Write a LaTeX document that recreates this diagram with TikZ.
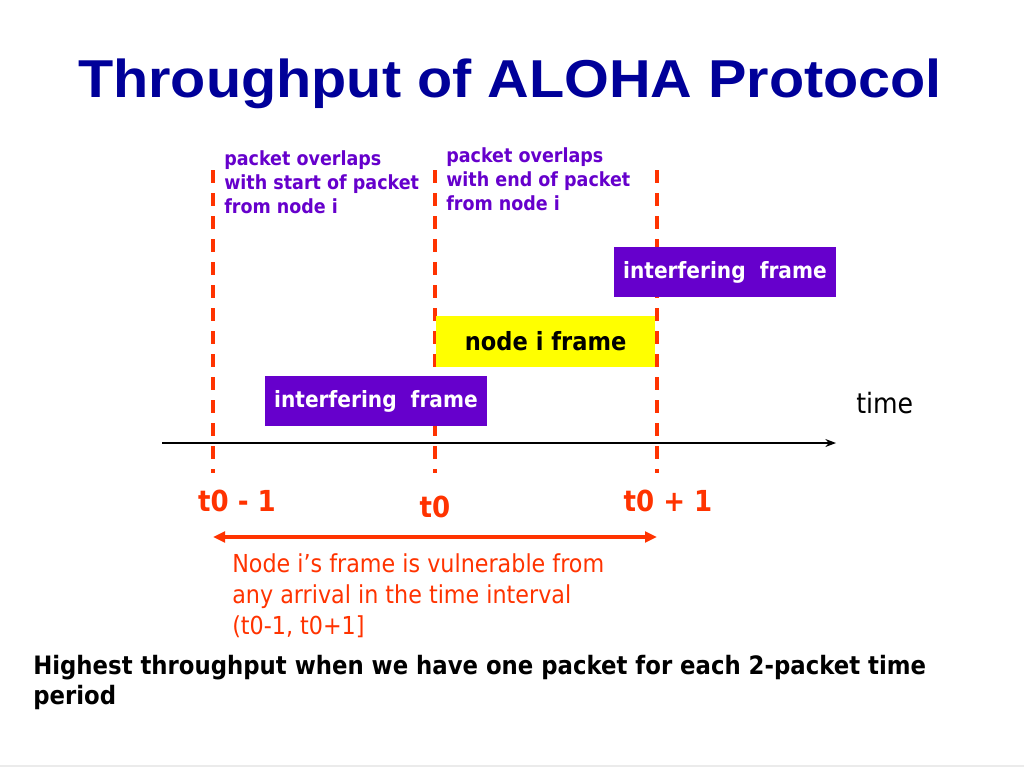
\documentclass[tikz,border=0pt]{standalone}
\usepackage{fontspec}
\setmainfont{DejaVu Sans}
\newfontfamily\titlefont[FakeStretch=1.08]{Liberation Sans}
\newfontfamily\tah[FakeStretch=0.9]{DejaVu Sans}
\usetikzlibrary{arrows.meta}
\definecolor{ttlblue}{HTML}{000099}
\definecolor{purp}{HTML}{6600CC}
\definecolor{redor}{HTML}{FF3300}
\definecolor{yel}{HTML}{FFFF00}
\newcommand{\fs}[2]{\fontsize{#1}{#2}\selectfont}
\tikzset{
  vline/.style={draw=redor, line width=2.4pt, dash pattern=on 9.75pt off 7.5pt},
  framebox/.style={fill=purp, text=white, font=\tah\bfseries\fs{16.8}{20}, minimum width=166pt, minimum height=37.5pt, inner sep=0pt, anchor=north west},
  nodebox/.style={fill=yel, text=black, font=\tah\bfseries\fs{18.8}{22}, minimum width=164pt, minimum height=38pt, inner sep=0pt, anchor=north west},
  plabel/.style={text=purp, font=\tah\bfseries\fs{14.6}{18}, align=left, inner sep=0pt, anchor=north west},
  tlabel/.style={text=redor, font=\tah\bfseries\fs{21.7}{24}, inner sep=0pt, anchor=base},
}
\begin{document}
\begin{tikzpicture}[x=0.75pt, y=-0.75pt]
\useasboundingbox (0,0) rectangle (1024,768);
\fill[white] (0,0) rectangle (1024,768);
\draw[black!8, line width=1pt] (0,766) -- (1024,766);
% title
\node[text=ttlblue, font=\titlefont\bfseries\fs{40}{44}, anchor=base, inner sep=0pt] (title) at (510,97) {Throughput of ALOHA Protocol};
% dashed lines
\coordinate (a1) at (213,170); \coordinate (b1) at (213,473);
\coordinate (a2) at (435,170); \coordinate (b2) at (435,473);
\coordinate (a3) at (657,170); \coordinate (b3) at (657,473);
\draw[vline] (a1) -- (b1);
\draw[vline] (a2) -- (b2);
\draw[vline] (a3) -- (b3);
% axis
\coordinate (ax0) at (162,443); \coordinate (ax1) at (836,443);
\draw[black, line width=0.9pt, -{Stealth[length=8pt,width=6pt]}] (ax0) -- (ax1);
\node[font=\tah\fs{21}{24}, anchor=base west, inner sep=0pt] (time) at (856,413) {time};
% frames
\node[framebox] (if1) at (265,376) {interfering\ \ frame};
\node[nodebox] (nif) at (436,316) {node i frame};
\node[framebox] (if2) at (614,247) {interfering\ \ frame};
% labels
\node[plabel] (lab1) at (224,150) {packet overlaps\\with start of packet\\from node i};
\node[plabel] (lab2) at (446,147) {packet overlaps\\with end of packet\\from node i};
% time labels
\node[tlabel] (tm1) at (237,511) {t0 - 1};
\node[tlabel] (tz) at (435,517) {t0};
\node[tlabel] (tp1) at (668,511) {t0 + 1};
% vulnerable interval
\coordinate (v0) at (213,537); \coordinate (v1) at (657,537);
\draw[redor, line width=2.3pt, {Triangle[length=9pt,width=8pt]}-{Triangle[length=9pt,width=8pt]}] (v0) -- (v1);
\node[text=redor, font=\tah\fs{18.55}{23.5}, align=left, inner sep=0pt, anchor=north west] (vuln) at (232,553) {Node i’s frame is vulnerable from\\any arrival in the time interval\\(t0-1, t0+1]};
% bottom
\node[font=\tah\bfseries\fs{19}{22.5}, align=left, inner sep=0pt, anchor=north west] (bottom) at (33,655) {Highest throughput when we have one packet for each 2-packet time\\period};
\end{tikzpicture}
\end{document}
